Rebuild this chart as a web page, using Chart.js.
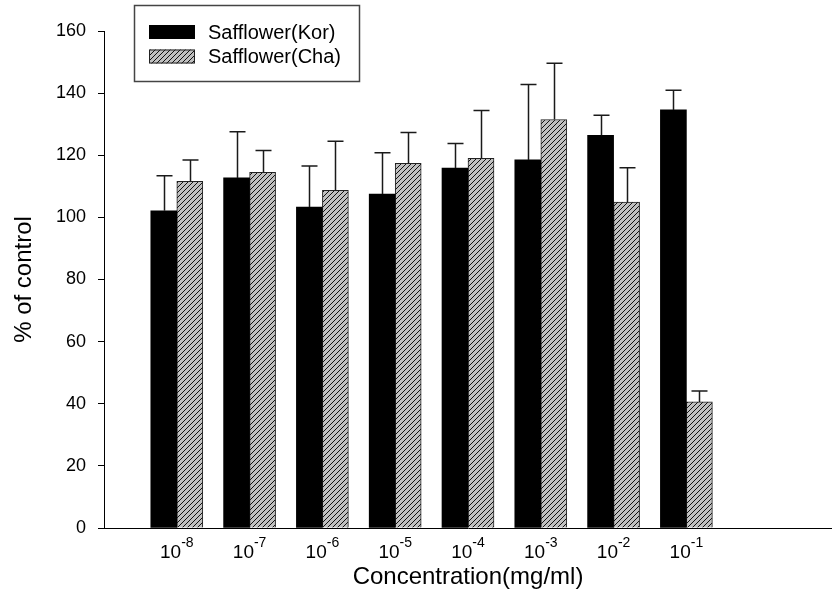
<!DOCTYPE html>
<html><head><meta charset="utf-8">
<script src="https://cdn.jsdelivr.net/npm/chart.js@4"></script>
<style>html,body{margin:0;padding:0;background:#fff}#wrap{width:832px;height:596px;position:relative}</style>
</head><body><div id="wrap"><canvas id="c" width="832" height="596"></canvas></div>
<script>
// ---- data ----
const categories = ['10⁻⁸','10⁻⁷','10⁻⁶','10⁻⁵','10⁻⁴','10⁻³','10⁻²','10⁻¹'];
const tickBase = '10';
const tickExponents = ['-8','-7','-6','-5','-4','-3','-2','-1'];
const seriesNames = ['Safflower(Kor)','Safflower(Cha)'];
const korValues = [102.1, 112.7, 103.3, 107.5, 115.9, 118.5, 126.4, 134.6];
const korErrors = [11.3, 14.9, 13.2, 13.3, 7.9, 24.3, 6.5, 6.3];
const chaValues = [111.6, 114.5, 108.7, 117.4, 119.0, 131.5, 104.9, 40.6];
const chaErrors = [6.9, 7.0, 15.8, 9.9, 15.4, 18.1, 11.1, 3.5];
const yTickValues = [0, 20, 40, 60, 80, 100, 120, 140, 160];
const xAxisTitle = 'Concentration(mg/ml)';
const yAxisTitle = '% of control';

// ---- styles ----
const FONT = "'Liberation Sans', Arial, Helvetica, sans-serif";
function makeHatch() {
  const s = 5;
  const c = document.createElement('canvas');
  c.width = s; c.height = s;
  const g = c.getContext('2d');
  g.fillStyle = '#c0c0c0';
  g.fillRect(0, 0, s, s);
  g.strokeStyle = '#111';
  g.lineWidth = 1;
  g.beginPath();
  g.moveTo(-1, s + 1); g.lineTo(s + 1, -1);
  g.moveTo(-1, 1); g.lineTo(1, -1);
  g.moveTo(s - 1, s + 1); g.lineTo(s + 1, s - 1);
  g.stroke();
  return g.createPattern(c, 'repeat');
}
const hatch = makeHatch();
const errorsByDataset = [korErrors, chaErrors];

const errorBarPlugin = {
  id: 'errorBars',
  afterDatasetsDraw(chart) {
    const ctx = chart.ctx;
    const yScale = chart.scales.y;
    ctx.save();
    ctx.strokeStyle = '#1a1a1a';
    ctx.lineWidth = 1.5;
    chart.data.datasets.forEach((ds, di) => {
      const meta = chart.getDatasetMeta(di);
      meta.data.forEach((el, i) => {
        const v = ds.data[i].y;
        const e = errorsByDataset[di][i];
        const yTop = yScale.getPixelForValue(v + e);
        const x = Math.round(el.x) + 0.5;
        ctx.beginPath();
        ctx.moveTo(x, el.y);
        ctx.lineTo(x, yTop);
        ctx.moveTo(x - 8, yTop);
        ctx.lineTo(x + 8, yTop);
        ctx.stroke();
      });
    });
    ctx.restore();
  }
};

const xLabelPlugin = {
  id: 'xLabels',
  afterDraw(chart) {
    const ctx = chart.ctx;
    const xs = chart.scales.x;
    ctx.save();
    ctx.fillStyle = '#000';
    ctx.textBaseline = 'alphabetic';
    ctx.textAlign = 'left';
    categories.forEach((c, i) => {
      const px = xs.getPixelForValue(i + 1);
      ctx.font = '19px ' + FONT;
      const wb = ctx.measureText(tickBase).width;
      ctx.font = '14px ' + FONT;
      const we = ctx.measureText(tickExponents[i]).width;
      const start = px - (wb + we) / 2;
      ctx.font = '19px ' + FONT;
      ctx.fillText(tickBase, start, 558);
      ctx.font = '14px ' + FONT;
      ctx.fillText(tickExponents[i], start + wb, 547);
    });
    ctx.restore();
  }
};

const legendPlugin = {
  id: 'boxLegend',
  afterDraw(chart) {
    const ctx = chart.ctx;
    ctx.save();
    ctx.strokeStyle = '#444';
    ctx.lineWidth = 1.5;
    ctx.strokeRect(134.5, 5.5, 225, 76);
    const rows = [32, 56.5];
    chart.data.datasets.forEach((ds, i) => {
      const cy = rows[i];
      ctx.fillStyle = ds.backgroundColor;
      ctx.fillRect(149, cy - 7, 46, 14);
      if (ds.borderWidth) {
        ctx.strokeStyle = '#222';
        ctx.lineWidth = 1;
        ctx.strokeRect(149.5, cy - 6.5, 45, 13);
      }
      ctx.fillStyle = '#000';
      ctx.font = '20px ' + FONT;
      ctx.textBaseline = 'middle';
      ctx.textAlign = 'left';
      ctx.fillText(ds.label, 208, cy + 1);
    });
    ctx.restore();
  }
};

new Chart(document.getElementById('c'), {
  type: 'bar',
  data: {
    datasets: [
      {
        label: seriesNames[0],
        data: korValues.map((v, i) => ({ x: i + 1, y: v })),
        backgroundColor: '#000',
        borderWidth: 0,
        barThickness: 26
      },
      {
        label: seriesNames[1],
        data: chaValues.map((v, i) => ({ x: i + 1, y: v })),
        backgroundColor: hatch,
        borderColor: '#222',
        borderWidth: 1,
        barThickness: 26
      }
    ]
  },
  options: {
    responsive: false,
    animation: false,
    layout: { padding: { top: 31, right: -4, left: 0, bottom: 0 } },
    plugins: { legend: { display: false }, tooltip: { enabled: false } },
    scales: {
      x: {
        type: 'linear', min: 0, max: 10, offset: false,
        grid: { display: false },
        border: { display: true, color: '#000', width: 1 },
        ticks: { display: false },
        afterBuildTicks: s => { s.ticks = categories.map((c, i) => ({ value: i + 1 })); },
        afterFit: s => { s.height = 68; },
        title: { display: true, text: xAxisTitle, color: '#000', font: { family: FONT, size: 24 }, padding: { top: 0, bottom: 4 } }
      },
      y: {
        min: 0, max: 160,
        afterBuildTicks: s => { s.ticks = yTickValues.map(v => ({ value: v })); },
        ticks: { color: '#000', padding: 12, font: { family: FONT, size: 18 } },
        grid: { display: true, drawOnChartArea: false, drawTicks: true, tickLength: 6, color: '#000', lineWidth: 1 },
        border: { display: true, color: '#000', width: 1 },
        afterFit: s => { s.width = 104; },
        title: { display: true, text: yAxisTitle, color: '#000', font: { family: FONT, size: 24 }, padding: { top: 10, bottom: 0 } }
      }
    }
  },
  plugins: [errorBarPlugin, xLabelPlugin, legendPlugin]
});
</script>
</body></html>
